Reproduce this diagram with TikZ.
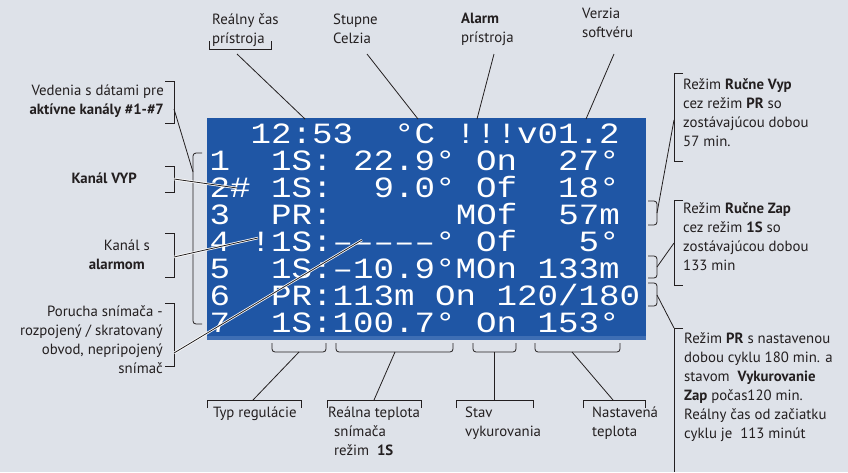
\documentclass[tikz,border=0pt]{standalone}
\usepackage{fontspec}
\setmainfont{PT Sans}
\newfontfamily\lcdfont{Liberation Mono}[Ligatures=TeXOff]
\definecolor{bg}{RGB}{222,226,233}
\definecolor{lcdblue}{RGB}{31,86,165}
\definecolor{lcdband}{RGB}{62,110,180}
\definecolor{ink}{RGB}{35,31,32}
\newcommand{\lcdtxt}[1]{\scalebox{1}[0.86]{#1}}
\begin{document}
\begin{tikzpicture}[x=1pt,y=-1pt,
  lbl/.style={inner sep=0pt, font=\fontsize{14.8}{19}\selectfont, text=ink},
  lbll/.style={lbl, anchor=north west, align=left},
  lblr/.style={lbl, anchor=north east, align=right},
  lcd/.style={inner sep=0pt, anchor=base west, font=\lcdfont\fontsize{34.17}{27}\selectfont\frenchspacing, text=white},
  conn/.style={draw=ink, line width=0.8pt},
  halo/.style={conn, preaction={draw=white, line width=2.4pt}},
  brk/.style={draw=ink, line width=0.8pt},
  sbrk/.style={brk, rounded corners=3pt}]
\fill[bg] (0,0) rectangle (848,472);
\useasboundingbox (0,0) rectangle (848,472);
% LCD
\fill[lcdblue] (207,118) rectangle (646,336);
\fill[lcdband] (207,336) rectangle (646,340);
\node[lcd] (row0) at (209.5,143.5) {\lcdtxt{~~12:53~~°C~!!!v01.2}};
\node[lcd] (row1) at (209.5,170.5) {\lcdtxt{1~~1S:~22.9°~On~~27°}};
\node[lcd] (row2) at (209.5,197.5) {\lcdtxt{2\#~1S:~~9.0°~Of~~18°}};
\node[lcd] (row3) at (209.5,224.5) {\lcdtxt{3~~PR:~~~~~~MOf~~57m}};
\node[lcd] (row4) at (209.5,251.5) {\lcdtxt{4~!1S:–––––°~Of~~~5°}};
\node[lcd] (row5) at (209.5,278.5) {\lcdtxt{5~~1S:–10.9°MOn~133m}};
\node[lcd] (row6) at (209.5,305.5) {\lcdtxt{6~~PR:113m~On~120/180}};
\node[lcd] (row7) at (209.5,332.5) {\lcdtxt{7~~1S:100.7°~On~153°}};
% top labels
\node[lbll] (t1) at (212,10.7) {\strut Reálny čas\\prístroja};
\node[lbll] (t2) at (333,10.7) {\strut Stupne\\Celzia};
\node[lbll] (t3) at (461,10.2) {\strut\textbf{Alarm}\\prístroja};
\node[lbll] (t4) at (582,4.7) {\strut Verzia\\softvéru};
% left labels
\node[lblr] (l1) at (164,81.7) {\strut Vedenia s dátami pre\\\textbf{aktívne kanály \#1-\#7}};
\node[lblr] (l2) at (137,169.7) {\strut\textbf{Kanál VYP}};
\node[lblr] (l3) at (150,236.7) {\strut Kanál s\\\textbf{alarmom}\hspace*{5pt}};
\node[lblr] (l4) at (163,302.7) {\strut Porucha snímača -\\rozpojený / skratovaný\\obvod, nepripojený\\snímač};
% right labels
\node[lbll] (r1) at (683,75.7) {\strut Režim \textbf{Ručne Vyp}\\cez režim \textbf{PR} so\\zostávajúcou dobou\\57 min.};
\node[lbll] (r2) at (683,199.7) {\strut Režim \textbf{Ručne Zap}\\cez režim \textbf{1S} so\\zostávajúcou dobou\\133 min};
\node[lbll] (r3) at (684,329.7) {\strut Režim \textbf{PR} s nastavenou\\dobou cyklu 180 min. a\\stavom~ \textbf{Vykurovanie}\\\textbf{Zap} počas120 min.\\Reálny čas od začiatku\\cyklu je~ 113 minút};
% bottom labels
\node[lbll] (b1) at (213,403.7) {\strut Typ regulácie};
\node[lbll] (b2) at (328,403.7) {\strut Reálna teplota\\\hspace*{6pt}snímača\\\hspace*{6pt}režim~ \textbf{1S}};
\node[lbll] (b3) at (465,403.7) {\strut Stav\\vykurovania};
\node[lbll] (b4) at (592,403.7) {\strut Nastavená\\teplota};
% label brackets
\draw[brk] (209,41) -- (209,49) -- (271,49) -- (271,41);
\draw[brk] (165,81) -- (174,81) -- (174,123) -- (165,123);
\draw[brk] (165,166) -- (174,166) -- (174,192) -- (165,192);
\draw[brk] (165,233) -- (174,233) -- (174,277) -- (165,277);
\draw[brk] (165,303) -- (174,303) -- (174,366) -- (165,366);
\draw[brk] (683,73) -- (674,73) -- (674,161) -- (683,161);
\draw[brk] (683,200) -- (674,200) -- (674,285) -- (683,285);
\draw[brk] (683,328) -- (674,328) -- (674,472);
\draw[brk] (207,408) -- (207,400) -- (301,400) -- (301,408);
\draw[brk] (327,408) -- (327,400) -- (421,400) -- (421,408);
\draw[brk] (456,408) -- (456,400) -- (533,400) -- (533,408);
\draw[brk] (583,408) -- (583,400) -- (645,400) -- (645,408);
% screen brackets
\draw[sbrk] (202,153) -- (193,153) -- (193,324) -- (202,324);
\draw[sbrk] (648,201) -- (657,201) -- (657,225) -- (648,225);
\draw[sbrk] (648,256) -- (657,256) -- (657,278) -- (648,278);
\draw[sbrk] (648,283) -- (657,283) -- (657,306) -- (648,306);
\draw[sbrk] (272,343) -- (272,352) -- (326,352) -- (326,343);
\draw[sbrk] (336,343) -- (336,352) -- (453,352) -- (453,343);
\draw[sbrk] (473,343) -- (473,352) -- (516,352) -- (516,343);
\draw[sbrk] (535,343) -- (535,352) -- (620,352) -- (620,343);
% connector end points
\coordinate (c1a) at (237,54);  \coordinate (c1b) at (305,119);
\coordinate (c2a) at (367,54);  \coordinate (c2b) at (418,119);
\coordinate (c3a) at (494,54);  \coordinate (c3b) at (477,119);
\coordinate (c4a) at (614,54);  \coordinate (c4b) at (586,119);
\coordinate (v1a) at (174,109); \coordinate (v1b) at (193,172);
\coordinate (k1a) at (174,179); \coordinate (k1b) at (237,188);
\coordinate (a1a) at (174,257); \coordinate (a1b) at (258,238);
\coordinate (p1a) at (174,353); \coordinate (p1b) at (362,240);
\coordinate (q1a) at (657,213); \coordinate (q1b) at (674,120);
\coordinate (q2a) at (657,267); \coordinate (q2b) at (674,243);
\coordinate (q3a) at (657,295); \coordinate (q3b) at (674,328);
\coordinate (d1a) at (299,352); \coordinate (d1b) at (253,400);
\coordinate (d2a) at (395,352); \coordinate (d2b) at (374,400);
\coordinate (d3a) at (494,352); \coordinate (d3b) at (494,400);
\coordinate (d4a) at (572,352); \coordinate (d4b) at (613,400);
% connectors
\draw[conn] (c1a) -- (c1b);
\draw[conn] (c2a) -- (c2b);
\draw[conn] (c3a) -- (c3b);
\draw[conn] (c4a) -- (c4b);
\draw[conn] (v1a) -- (v1b);
\draw[halo] (k1a) -- (k1b);
\draw[halo] (a1a) -- (a1b);
\draw[halo] (p1a) -- (p1b);
\draw[conn] (q1a) -- (q1b);
\draw[conn] (q2a) -- (q2b);
\draw[conn] (q3a) -- (q3b);
\draw[conn] (d1a) -- (d1b);
\draw[conn] (d2a) -- (d2b);
\draw[conn] (d3a) -- (d3b);
\draw[conn] (d4a) -- (d4b);
\end{tikzpicture}
\end{document}
